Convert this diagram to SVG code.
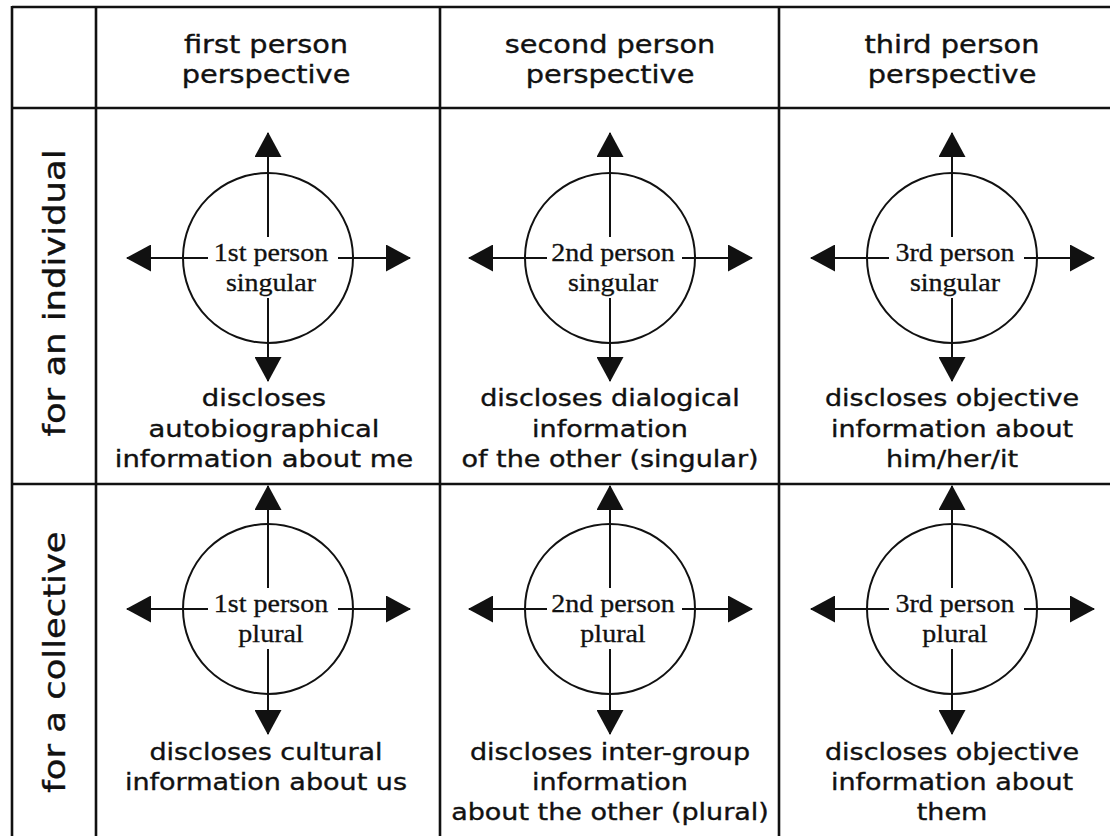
<svg xmlns="http://www.w3.org/2000/svg" width="1110" height="836" viewBox="0 0 1110 836">
<style>
.grid line{stroke:#111;stroke-width:2.6}
.ring{fill:none;stroke:#111;stroke-width:2}
.arr{stroke:#111;stroke-width:2;fill:none;marker-end:url(#ah)}
.sans{font-family:"DejaVu Sans","Verdana",sans-serif;fill:#111;stroke:#111;stroke-width:0.35;text-anchor:middle}
.hd{font-size:24px}
.bd{font-size:22.5px}
.side{font-size:29.5px}
.ser{font-family:"Liberation Serif","Times New Roman",serif;font-size:25px;fill:#111;stroke:#111;stroke-width:0.3;text-anchor:middle}
</style>
<defs>
<marker id="ah" viewBox="0 0 25 27" refX="24" refY="13.5" markerWidth="25" markerHeight="27" markerUnits="userSpaceOnUse" orient="auto">
<path d="M0 0 L25 13.5 L0 27 Z" fill="#111"/>
</marker>
</defs>
<rect width="1110" height="836" fill="#fff"/>
<g id="grid" class="grid">
<line x1="12" y1="7" x2="1110" y2="7"/>
<line x1="12" y1="108" x2="1110" y2="108"/>
<line x1="12" y1="484" x2="1110" y2="484"/>
<line x1="12" y1="6" x2="12" y2="836"/>
<line x1="96" y1="6" x2="96" y2="836"/>
<line x1="440" y1="6" x2="440" y2="836"/>
<line x1="779" y1="6" x2="779" y2="836"/>
</g>
<g id="headers" class="sans hd">
<g id="h1" transform="translate(266 0) scale(1.2 1)"><text x="0" y="53">first person</text><text x="0" y="83">perspective</text></g>
<g id="h2" transform="translate(610 0) scale(1.2 1)"><text x="0" y="53">second person</text><text x="0" y="83">perspective</text></g>
<g id="h3" transform="translate(952 0) scale(1.2 1)"><text x="0" y="53">third person</text><text x="0" y="83">perspective</text></g>
</g>
<g id="rowlabels" class="sans side">
<text id="r1" transform="translate(65 293) rotate(-90) scale(1.2 1)">for an individual</text>
<text id="r2" transform="translate(65 662) rotate(-90) scale(1.2 1)">for a collective</text>
</g>
<g id="nodes">
<g id="n11"><circle class="ring" cx="268" cy="258" r="85"/><text class="ser" transform="translate(271 0) scale(1.12 1)"><tspan x="0" y="261">1st person</tspan><tspan x="0" y="291">singular</tspan></text></g>
<g id="n12"><circle class="ring" cx="610" cy="258" r="85"/><text class="ser" transform="translate(613 0) scale(1.12 1)"><tspan x="0" y="261">2nd person</tspan><tspan x="0" y="291">singular</tspan></text></g>
<g id="n13"><circle class="ring" cx="952" cy="258" r="85"/><text class="ser" transform="translate(955 0) scale(1.12 1)"><tspan x="0" y="261">3rd person</tspan><tspan x="0" y="291">singular</tspan></text></g>
<g id="n21"><circle class="ring" cx="268" cy="609" r="85"/><text class="ser" transform="translate(271 0) scale(1.12 1)"><tspan x="0" y="612">1st person</tspan><tspan x="0" y="642">plural</tspan></text></g>
<g id="n22"><circle class="ring" cx="610" cy="609" r="85"/><text class="ser" transform="translate(613 0) scale(1.12 1)"><tspan x="0" y="612">2nd person</tspan><tspan x="0" y="642">plural</tspan></text></g>
<g id="n23"><circle class="ring" cx="952" cy="609" r="85"/><text class="ser" transform="translate(955 0) scale(1.12 1)"><tspan x="0" y="612">3rd person</tspan><tspan x="0" y="642">plural</tspan></text></g>
</g>
<g id="descriptions" class="sans bd">
<g id="d11" transform="translate(264 0) scale(1.22 1)"><text x="0" y="406">discloses</text><text x="0" y="437">autobiographical</text><text x="0" y="467">information about me</text></g>
<g id="d12" transform="translate(610 0) scale(1.2 1)"><text x="0" y="406">discloses dialogical</text><text x="0" y="437">information</text><text x="0" y="467">of the other (singular)</text></g>
<g id="d13" transform="translate(952 0) scale(1.2 1)"><text x="0" y="406">discloses objective</text><text x="0" y="437">information about</text><text x="0" y="467">him/her/it</text></g>
<g id="d21" transform="translate(266 0) scale(1.2 1)"><text x="0" y="760">discloses cultural</text><text x="0" y="790">information about us</text></g>
<g id="d22" transform="translate(610 0) scale(1.2 1)"><text x="0" y="760">discloses inter-group</text><text x="0" y="790">information</text><text x="0" y="820">about the other (plural)</text></g>
<g id="d23" transform="translate(952 0) scale(1.2 1)"><text x="0" y="760">discloses objective</text><text x="0" y="790">information about</text><text x="0" y="820">them</text></g>
</g>
<g id="connectors">
<path class="arr" d="M268 237 V133"/><path class="arr" d="M268 298 V381"/><path class="arr" d="M208 258 H127"/><path class="arr" d="M338 258 H410"/>
<path class="arr" d="M610 237 V133"/><path class="arr" d="M610 298 V381"/><path class="arr" d="M547 258 H469"/><path class="arr" d="M682 258 H752"/>
<path class="arr" d="M952 237 V133"/><path class="arr" d="M952 298 V381"/><path class="arr" d="M889 258 H811"/><path class="arr" d="M1024 258 H1094"/>
<path class="arr" d="M268 588 V486"/><path class="arr" d="M268 649 V734"/><path class="arr" d="M208 609 H127"/><path class="arr" d="M338 609 H410"/>
<path class="arr" d="M610 588 V486"/><path class="arr" d="M610 649 V734"/><path class="arr" d="M547 609 H469"/><path class="arr" d="M682 609 H752"/>
<path class="arr" d="M952 588 V486"/><path class="arr" d="M952 649 V734"/><path class="arr" d="M889 609 H811"/><path class="arr" d="M1024 609 H1094"/>
</g>
</svg>
